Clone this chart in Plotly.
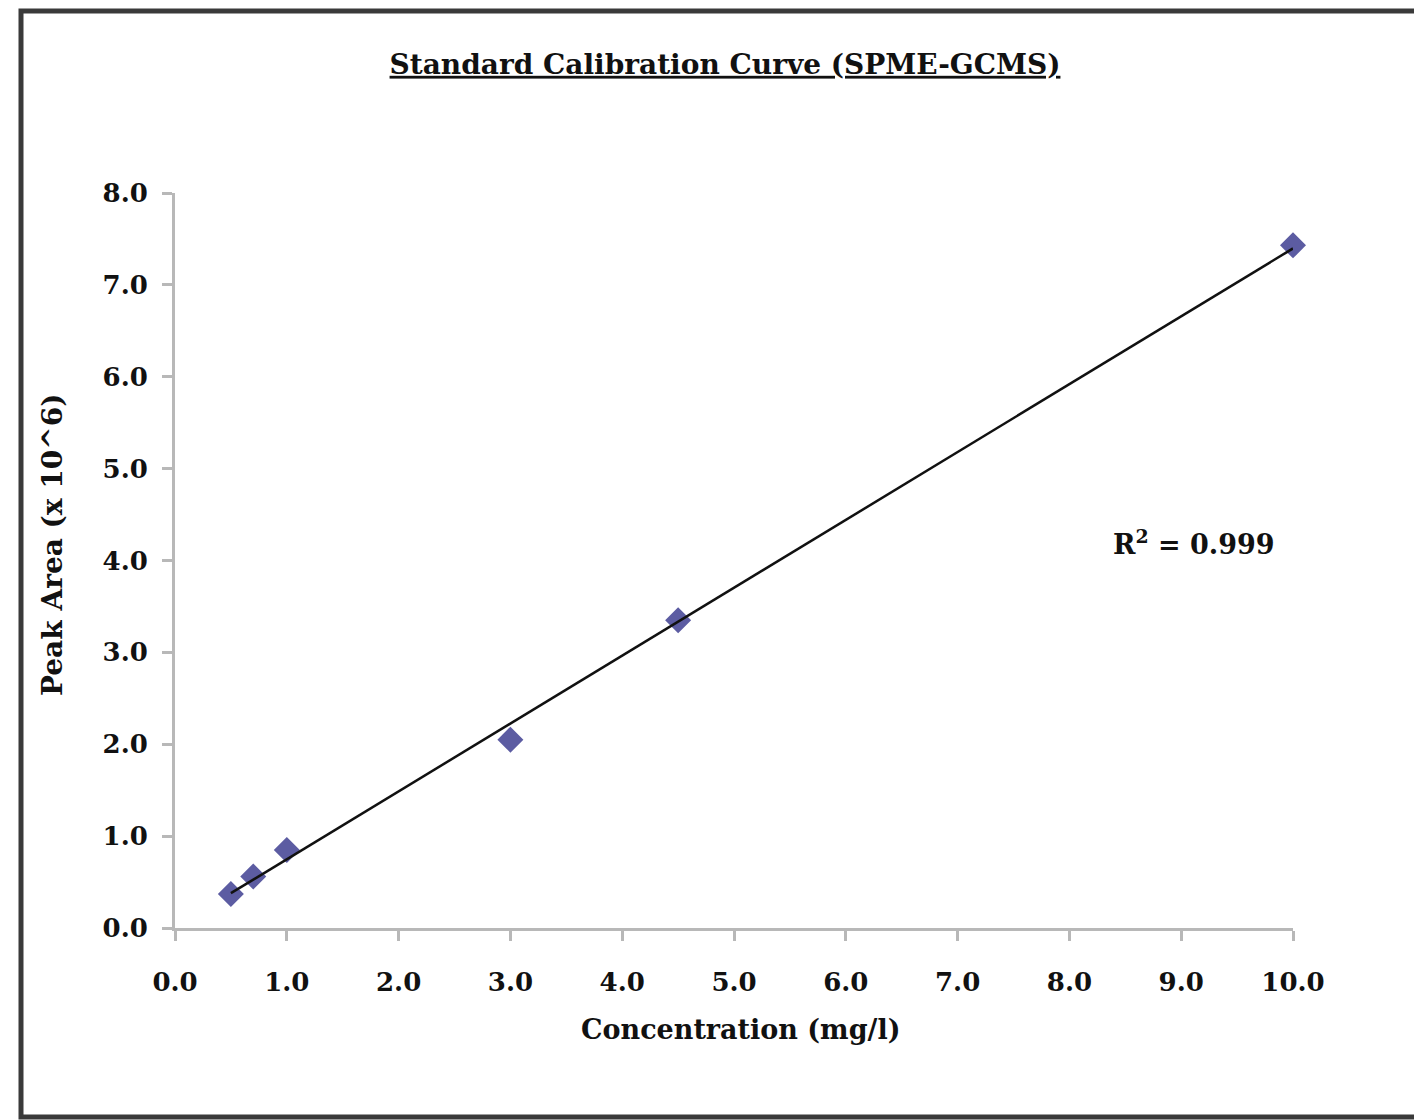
import numpy as np
import plotly.graph_objects as go

# Data
concentration = [0.5, 0.7, 1.0, 3.0, 4.5, 10.0]
peak_area = [0.37, 0.56, 0.85, 2.05, 3.35, 7.43]
x_ticks = [0, 1, 2, 3, 4, 5, 6, 7, 8, 9, 10]
y_ticks = [0, 1, 2, 3, 4, 5, 6, 7, 8]
r2_label = "R<sup>2</sup> = 0.999"
x_title = "Concentration (mg/l)"
y_title = "Peak Area (x 10^6)"
chart_title = "Standard Calibration Curve (SPME-GCMS)"

# Linear trendline fitted to the data
slope, intercept = np.polyfit(concentration, peak_area, 1)
fit_x = [min(concentration), max(concentration)]
fit_y = [slope * v + intercept for v in fit_x]

W, H = 1422, 1120
OFF = 8  # page body margin
L, R, T, B = 167, 1422 - 1285, 185, 1120 - 920
pw, ph = W - L - R, H - T - B

def px_to_paper_x(px):
    return (px - OFF - L) / pw

def px_to_paper_y(py):
    return (H - B - (py - OFF)) / ph

serif = "DejaVu Serif"
ink = "#111111"

fig = go.Figure()
fig.add_trace(go.Scatter(
    x=concentration, y=peak_area, mode="markers",
    marker=dict(symbol="diamond", size=20, color="#5c5ca2"),
    showlegend=False, cliponaxis=False,
))
fig.add_trace(go.Scatter(
    x=fit_x, y=fit_y, mode="lines",
    line=dict(color=ink, width=2.5),
    showlegend=False, cliponaxis=False,
))

axis_common = dict(
    showgrid=False, zeroline=False, showline=True,
    linecolor="#b8b8b8", linewidth=3,
    ticks="outside", ticklen=10, tickwidth=3, tickcolor="#b8b8b8",
    tickfont=dict(family=serif, size=26, color=ink, weight="bold"),
    tickformat=".1f",
)

fig.update_xaxes(range=[0, 10], tickvals=x_ticks, ticklabelstandoff=19, **axis_common)
fig.update_yaxes(range=[0, 8], tickvals=y_ticks, ticklabelstandoff=9, **axis_common)

title_font = dict(family=serif, size=27, color=ink, weight="bold")

fig.update_layout(
    width=W, height=H,
    margin=dict(l=L, r=R, t=T, b=B),
    paper_bgcolor="white", plot_bgcolor="white",
    title=dict(text="<b><u>" + chart_title + "</u></b>",
               font=dict(family=serif, size=28, color=ink),
               x=px_to_paper_x(725), xref="paper", xanchor="center",
               y=1 - (64 - OFF) / H, yanchor="middle"),
    annotations=[
        dict(text=r2_label, x=px_to_paper_x(1194), y=px_to_paper_y(542),
             xref="paper", yref="paper", xanchor="center", yanchor="middle",
             showarrow=False,
             font=dict(family=serif, size=27, color=ink, weight="bold")),
        dict(text=x_title, x=px_to_paper_x(740), y=px_to_paper_y(1030),
             xref="paper", yref="paper", xanchor="center", yanchor="middle",
             showarrow=False, font=title_font),
        dict(text=y_title, x=px_to_paper_x(52), y=px_to_paper_y(545),
             xref="paper", yref="paper", xanchor="center", yanchor="middle",
             textangle=-90, showarrow=False,
             font=dict(family=serif, size=28, color=ink, weight="bold")),
    ],
    shapes=[dict(
        type="rect", xref="paper", yref="paper",
        x0=px_to_paper_x(21), x1=px_to_paper_x(1450),
        y0=px_to_paper_y(1117), y1=px_to_paper_y(11),
        line=dict(color="#3a3a3a", width=5), layer="below",
    )],
)

fig.write_html("out.html")
